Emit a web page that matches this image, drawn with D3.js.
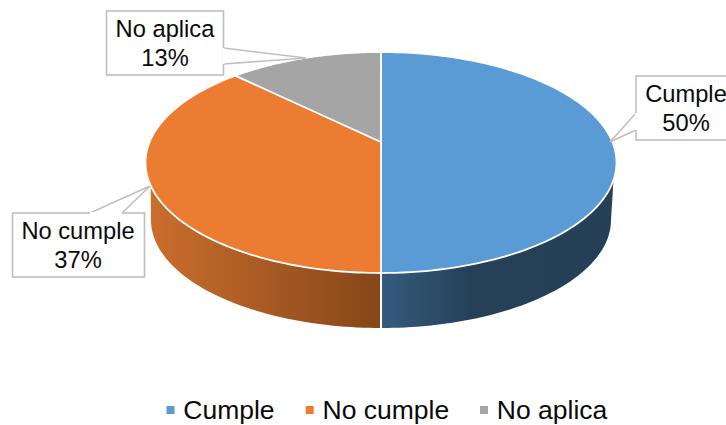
<!DOCTYPE html>
<html><head><meta charset="utf-8">
<script src="https://cdn.jsdelivr.net/npm/d3@7"></script>
<style>html,body{margin:0;padding:0;background:#fff;overflow:hidden}svg{display:block}text{font-family:"Liberation Sans",Arial,sans-serif;fill:#0a0a0a}</style>
</head><body><svg id="c" width="726" height="425"></svg>
<script>
const categories = ["Cumple", "No cumple", "No aplica"];
const values = [50, 37.4, 12.6];
const colors = ["#5b9bd5", "#ec7c31", "#a5a5a5"];
const sideGradients = [
  [["0%", "#345c7f"], ["38%", "#264058"], ["100%", "#253f56"]],
  [["0%", "#ca6e2c"], ["100%", "#854619"]],
  null
];

const svg = d3.select("#c");
const W = 726, H = 425;
// pie geometry: top ellipse, bottom ellipse, perspective shift
const top_ = {cx: 381, cy: 162.5, rx: 235.5, ry: 110.5};
const bot = {cx: 381, cy: 220, rx: 230, ry: 108};
const b = -0.186, s = Math.sqrt(1 - b * b);
const frontStart = 0.16, frontEnd = Math.PI - 0.21;

const sx = e => d3.scaleLinear().domain([-1, 1]).range([e.cx - e.rx, e.cx + e.rx]);
const sy = e => d3.scaleLinear().domain([-1, 1]).range([e.cy - e.ry, e.cy + e.ry]);
const tx = sx(top_), ty = sy(top_), bx = sx(bot), by = sy(bot);

// data angle (clockwise from 12 o'clock) -> perspective disk coordinates
function proj(th) {
  const u = Math.sin(th), v = -Math.cos(th), d = 1 + b * v;
  return [u * s / d, (v + b) / d];
}
const arcs = d3.pie().sort(null).value(d => d)(values);
const line = d3.line();
const defs = svg.append("defs");

// side walls
arcs.forEach((a, i) => {
  if (!sideGradients[i]) return;
  const id = "side" + i;
  const lg = defs.append("linearGradient").attr("id", id).attr("x1", 0).attr("x2", 1);
  sideGradients[i].forEach(g => lg.append("stop").attr("offset", g[0]).attr("stop-color", g[1]));
  // screen-angle range: clockwise from 3 o'clock
  const t0 = i === 0 ? frontStart : Math.PI / 2;
  const t1 = i === 0 ? Math.PI / 2 : frontEnd;
  const ts = d3.range(0, 61).map(k => t0 + (t1 - t0) * k / 60);
  const upper = ts.map(t => [tx(Math.cos(t)), ty(Math.sin(t))]);
  const tb0 = i === 0 ? 0 : Math.PI / 2, tb1 = i === 0 ? Math.PI / 2 : Math.PI;
  const lower = ts.map((_, k) => { const t = tb1 + (tb0 - tb1) * k / 60; return [bx(Math.cos(t)), by(Math.sin(t))]; });
  svg.append("path").attr("d", line(upper.concat(lower)) + "Z").attr("fill", `url(#${id})`);
});
// divider between the two walls
svg.append("line").attr("x1", tx(0)).attr("x2", tx(0)).attr("y1", ty(1)).attr("y2", by(1))
  .attr("stroke", "#fff").attr("stroke-width", 2);

// top face
const apex = [tx(0), ty(b)];
arcs.forEach((a, i) => {
  const pts = d3.range(0, 121).map(k => {
    const p = proj(a.startAngle + (a.endAngle - a.startAngle) * k / 120);
    return [tx(p[0]), ty(p[1])];
  });
  svg.append("path").attr("d", line([apex].concat(pts)) + "Z")
    .attr("fill", colors[i]).attr("stroke", "#fff").attr("stroke-width", 1.8).attr("stroke-linejoin", "round");
});

// callouts
const callouts = [
  {i: 0, box: [636, 76, 110, 64], ptr: [[636, 113], [610, 142], [636, 130]], cx: 686, base: 102},
  {i: 1, box: [12.5, 213, 132, 64], ptr: [[90, 213], [150, 186], [122, 213]], cx: 78, base: 239},
  {i: 2, box: [106.5, 11, 117, 64], ptr: [[223.5, 48], [306, 58], [223.5, 64]], cx: 165, base: 37}
];
const total = d3.sum(values);
callouts.forEach(c => {
  const [x, y, w, h] = c.box, p = c.ptr;
  const g = svg.append("g");
  g.append("rect").attr("x", x).attr("y", y).attr("width", w).attr("height", h)
    .attr("fill", "#fff").attr("stroke", "#bfbfbf").attr("stroke-width", 1.6);
  g.append("path").attr("d", d3.line()(p)).attr("fill", "#fff").attr("stroke", "#bfbfbf").attr("stroke-width", 1.6);
  // hide the box edge beneath the pointer's base
  g.append("line").attr("x1", p[0][0]).attr("y1", p[0][1]).attr("x2", p[2][0]).attr("y2", p[2][1])
    .attr("stroke", "#fff").attr("stroke-width", 2.2);
  g.append("text").attr("x", c.cx).attr("y", c.base).attr("text-anchor", "middle").attr("font-size", 23.7).text(categories[c.i]);
  g.append("text").attr("x", c.cx).attr("y", c.base + 29).attr("text-anchor", "middle").attr("font-size", 23.7)
    .text(Math.round(values[c.i] / total * 100) + "%");
});

// legend
const legendX = [166.5, 305.7, 480];
categories.forEach((n, i) => {
  svg.append("rect").attr("x", legendX[i]).attr("y", 406).attr("width", 8).attr("height", 8).attr("fill", colors[i]);
  svg.append("text").attr("x", legendX[i] + 16.8).attr("y", 418.5).attr("font-size", 26.5).text(n);
});
</script></body></html>
